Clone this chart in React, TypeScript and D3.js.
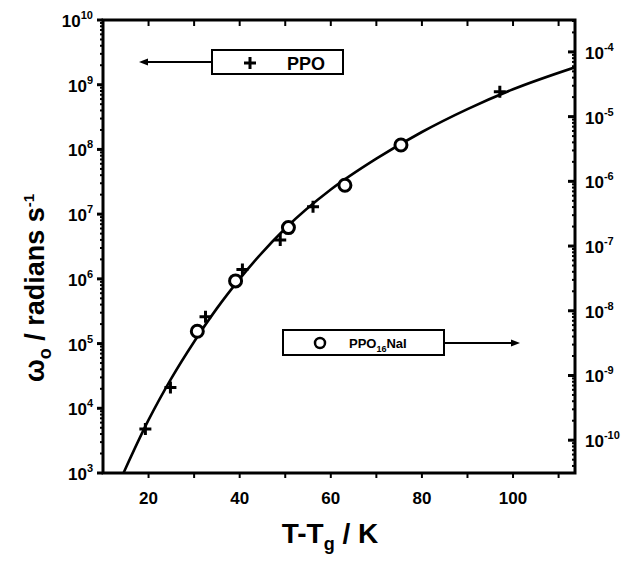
import React, {useEffect, useRef} from 'react';
import * as d3 from 'd3';

// PPO (crosses): T-Tg in K, omega0 in rad/s
const ppoT = [19.3, 24.8, 32.5, 40.6, 48.9, 56.1, 97.1];
const ppoW = [4.8e3, 2.1e4, 2.6e5, 1.4e6, 4.0e6, 1.3e7, 7.8e8];

// PPO16NaI (open circles)
const naiT = [30.7, 39.1, 50.7, 63.1, 75.4];
const naiW = [1.55e5, 9.3e5, 6.2e6, 2.8e7, 1.17e8];

// fitted curve
const fitT = [14.5, 20, 25, 30, 35, 40, 50, 60, 70, 80, 90, 100, 113.6];
const fitW = [1.0e3, 6.6e3, 2.9e4, 1.07e5, 3.5e5, 1.0e6, 6.0e6, 2.4e7, 7.2e7, 1.86e8, 4.2e8, 8.5e8, 1.86e9];

const xTicks = [20, 40, 60, 80, 100];
const leftExp = [3, 4, 5, 6, 7, 8, 9, 10];
const rightExp = [-4, -5, -6, -7, -8, -9, -10];

const W = 632;
const H = 565;
const FONT = '"Liberation Sans", Arial, sans-serif';

const App = () => {
    const svgRef = useRef(null);

    useEffect(() => {
        const svg = d3.select(svgRef.current);
        svg.selectAll('*').remove();

        const left = 103, right = 575, top = 20, bottom = 473;

        const x = d3.scaleLinear().domain([10, 113.6]).range([left, right]);
        const y = d3.scaleLog().domain([1e3, 1e10]).range([bottom, top]);
        const yR = d3.scaleLog().domain([Math.pow(10, -10.507), Math.pow(10, -3.507)]).range([bottom, top]);

        const g = svg.append('g');

        // frame
        g.append('rect')
            .attr('x', left).attr('y', top)
            .attr('width', right - left).attr('height', bottom - top)
            .attr('fill', 'none').attr('stroke', '#000').attr('stroke-width', 3);

        // left axis ticks
        for (let e = 3; e <= 10; e++) {
            g.append('line')
                .attr('x1', left - 6).attr('x2', left)
                .attr('y1', y(Math.pow(10, e))).attr('y2', y(Math.pow(10, e)))
                .attr('stroke', '#000').attr('stroke-width', 3);
            if (e < 10) {
                for (let m = 2; m <= 9; m++) {
                    const v = m * Math.pow(10, e);
                    g.append('line')
                        .attr('x1', left - 3).attr('x2', left)
                        .attr('y1', y(v)).attr('y2', y(v))
                        .attr('stroke', '#000').attr('stroke-width', 2);
                }
            }
        }
        leftExp.forEach(e => {
            const t = g.append('text')
                .attr('x', 93).attr('y', y(Math.pow(10, e)) + 7)
                .attr('text-anchor', 'end')
                .attr('font-family', FONT).attr('font-weight', 'bold').attr('font-size', 17);
            t.append('tspan').text('10');
            t.append('tspan').attr('font-size', 11).attr('dy', -8).text(String(e));
        });

        // right axis ticks
        for (let e = -11; e <= -4; e++) {
            const v0 = Math.pow(10, e);
            if (v0 >= yR.domain()[0] && v0 <= yR.domain()[1]) {
                g.append('line')
                    .attr('x1', right - 7).attr('x2', right)
                    .attr('y1', yR(v0)).attr('y2', yR(v0))
                    .attr('stroke', '#000').attr('stroke-width', 3);
            }
            for (let m = 2; m <= 9; m++) {
                const v = m * v0;
                if (v < yR.domain()[0] || v > yR.domain()[1]) continue;
                g.append('line')
                    .attr('x1', right - 3).attr('x2', right)
                    .attr('y1', yR(v)).attr('y2', yR(v))
                    .attr('stroke', '#000').attr('stroke-width', 2);
            }
        }
        rightExp.forEach(e => {
            const t = g.append('text')
                .attr('x', 585).attr('y', yR(Math.pow(10, e)) + 7)
                .attr('font-family', FONT).attr('font-weight', 'bold').attr('font-size', 17);
            t.append('tspan').text('10');
            t.append('tspan').attr('font-size', 11).attr('dy', -8).text(String(e));
        });

        // x ticks
        d3.range(20, 111, 10).forEach(v => {
            g.append('line')
                .attr('x1', x(v)).attr('x2', x(v))
                .attr('y1', bottom).attr('y2', bottom + 5)
                .attr('stroke', '#000').attr('stroke-width', 2);
            g.append('line')
                .attr('x1', x(v)).attr('x2', x(v))
                .attr('y1', top).attr('y2', top + 6)
                .attr('stroke', '#000').attr('stroke-width', 2);
        });
        xTicks.forEach(v => {
            g.append('text')
                .attr('x', x(v)).attr('y', 504)
                .attr('text-anchor', 'middle')
                .attr('font-family', FONT).attr('font-weight', 'bold').attr('font-size', 17)
                .text(String(v));
        });

        // x title
        const xt = g.append('text')
            .attr('x', 330).attr('y', 543)
            .attr('text-anchor', 'middle')
            .attr('font-family', FONT).attr('font-weight', 'bold').attr('font-size', 28);
        xt.append('tspan').text('T-T');
        xt.append('tspan').attr('font-size', 18).attr('dy', 7).text('g');
        xt.append('tspan').attr('dy', -7).text(' / K');

        // y title
        const yt = g.append('text')
            .attr('transform', 'translate(44, 288) rotate(-90)')
            .attr('text-anchor', 'middle')
            .attr('font-family', FONT).attr('font-weight', 'bold').attr('font-size', 27);
        yt.append('tspan').text('ω');
        yt.append('tspan').attr('font-size', 18).attr('dy', 7).text('o');
        yt.append('tspan').attr('dy', -7).text(' / radians s');
        yt.append('tspan').attr('font-size', 15).attr('dy', -10).text('-1');

        // fit curve
        const plot = g.append('g');
        plot.append('clipPath').attr('id', 'clip')
            .append('rect').attr('x', left).attr('y', top)
            .attr('width', right - left).attr('height', bottom - top);
        const line = d3.line<number>()
            .x((d, i) => x(fitT[i]))
            .y(d => y(d))
            .curve(d3.curveMonotoneX);
        plot.append('path')
            .attr('d', line(fitW))
            .attr('clip-path', 'url(#clip)')
            .attr('fill', 'none').attr('stroke', '#000').attr('stroke-width', 2.6);

        // crosses
        ppoW.forEach((w, i) => {
            const cx = x(ppoT[i]), cy = y(w);
            plot.append('path')
                .attr('d', `M${cx - 6},${cy}H${cx + 6}M${cx},${cy - 6}V${cy + 6}`)
                .attr('stroke', '#000').attr('stroke-width', 3);
        });

        // circles
        naiW.forEach((w, i) => {
            plot.append('circle')
                .attr('cx', x(naiT[i])).attr('cy', y(w)).attr('r', 6)
                .attr('fill', '#fff').attr('stroke', '#000').attr('stroke-width', 3);
        });

        // legend PPO -> left axis
        g.append('rect')
            .attr('x', 212).attr('y', 50).attr('width', 131).attr('height', 24)
            .attr('fill', '#fff').attr('stroke', '#000').attr('stroke-width', 2);
        g.append('path')
            .attr('d', `M${250 - 6},63H${250 + 6}M250,57V69`)
            .attr('stroke', '#000').attr('stroke-width', 3);
        g.append('text')
            .attr('x', 287).attr('y', 70)
            .attr('font-family', FONT).attr('font-weight', 'bold').attr('font-size', 18)
            .text('PPO');
        g.append('line')
            .attr('x1', 212).attr('x2', 146).attr('y1', 62).attr('y2', 62)
            .attr('stroke', '#000').attr('stroke-width', 2);
        g.append('path')
            .attr('d', 'M139,62L148,58.5L148,65.5Z').attr('fill', '#000');

        // legend PPO16NaI -> right axis
        g.append('rect')
            .attr('x', 283).attr('y', 330).attr('width', 161).attr('height', 25)
            .attr('fill', '#fff').attr('stroke', '#000').attr('stroke-width', 2);
        g.append('circle')
            .attr('cx', 320).attr('cy', 343).attr('r', 5)
            .attr('fill', '#fff').attr('stroke', '#000').attr('stroke-width', 2.5);
        const lt = g.append('text')
            .attr('x', 349).attr('y', 348)
            .attr('font-family', FONT).attr('font-weight', 'bold').attr('font-size', 13);
        lt.append('tspan').text('PPO');
        lt.append('tspan').attr('font-size', 9).attr('dy', 4).text('16');
        lt.append('tspan').attr('dy', -4).text('NaI');
        g.append('line')
            .attr('x1', 444).attr('x2', 512).attr('y1', 343).attr('y2', 343)
            .attr('stroke', '#000').attr('stroke-width', 2);
        g.append('path')
            .attr('d', 'M520,343L511,339.5L511,346.5Z').attr('fill', '#000');
    }, []);

    return (
        <svg ref={svgRef} width={W} height={H} style={{display: 'block', position: 'absolute', left: 0, top: 0}}></svg>
    );
};

export default App;
